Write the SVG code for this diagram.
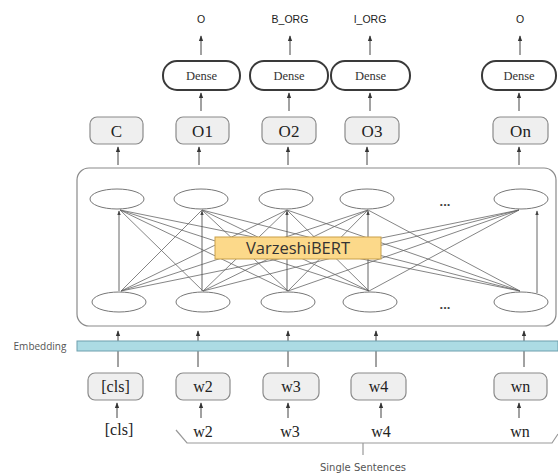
<svg xmlns="http://www.w3.org/2000/svg" width="558" height="474" viewBox="0 0 558 474">
  <defs>
    <marker id="arr" viewBox="0 0 8 8" refX="7" refY="4" markerWidth="6" markerHeight="6" orient="auto">
      <path d="M0,1 L8,4 L0,7 Z" fill="#333"/>
    </marker>
    <marker id="arrs" viewBox="0 0 8 8" refX="7" refY="4" markerWidth="5" markerHeight="5" orient="auto">
      <path d="M0,1 L8,4 L0,7 Z" fill="#444"/>
    </marker>
  </defs>
  <style>
    .tag { font-family: "Liberation Sans", Arial, sans-serif; font-size: 10.5px; fill: #222; text-anchor: middle; }
    .dense rect { fill: #fff; stroke: #3a3a3a; stroke-width: 2; }
    .dense text { font-family: "Liberation Serif", "Times New Roman", serif; font-size: 12.5px; fill: #333; text-anchor: middle; }
    .box rect { fill: #efefef; stroke: #8a8a8a; stroke-width: 1.2; }
    .box text { font-family: "Liberation Serif", "Times New Roman", serif; font-size: 17px; fill: #222; text-anchor: middle; }
    .tok text { font-family: "Liberation Serif", "Times New Roman", serif; font-size: 16px; fill: #222; text-anchor: middle; }
    .unit { fill: #fff; stroke: #777; stroke-width: 1; }
    .up { stroke: #444; stroke-width: 1; fill: none; marker-end: url(#arr); }
    .mesh { stroke: #666; stroke-width: 0.8; fill: none; }
    .dots { font-family: "Liberation Sans", Arial, sans-serif; font-size: 13px; font-weight: bold; fill: #444; text-anchor: middle; }
    .small { font-family: "DejaVu Sans", "Liberation Sans", sans-serif; font-size: 10px; fill: #555; text-anchor: middle; }
  </style>

  <!-- output tags -->
  <g id="tags">
    <text class="tag" x="201" y="23">O</text>
    <text class="tag" x="290" y="23">B_ORG</text>
    <text class="tag" x="370" y="23">I_ORG</text>
    <text class="tag" x="520" y="23">O</text>
  </g>

  <!-- dense heads -->
  <g id="dense1" class="dense"><rect x="163" y="61" width="77" height="29" rx="14"/><text x="201.5" y="80">Dense</text></g>
  <g id="dense2" class="dense"><rect x="250" y="61" width="78" height="29" rx="14"/><text x="289" y="80">Dense</text></g>
  <g id="dense3" class="dense"><rect x="331" y="61" width="79" height="29" rx="14"/><text x="370.5" y="80">Dense</text></g>
  <g id="dense4" class="dense"><rect x="482" y="61" width="74" height="29" rx="14"/><text x="519" y="80">Dense</text></g>

  <!-- encoder outputs -->
  <g id="outC" class="box"><rect x="90" y="117" width="53" height="27" rx="7"/><text x="116.5" y="137">C</text></g>
  <g id="outO1" class="box"><rect x="176" y="117" width="53" height="27" rx="7"/><text x="202.5" y="137">O1</text></g>
  <g id="outO2" class="box"><rect x="262" y="117" width="54" height="27" rx="7"/><text x="289" y="137">O2</text></g>
  <g id="outO3" class="box"><rect x="345" y="117" width="54" height="27" rx="7"/><text x="372" y="137">O3</text></g>
  <g id="outOn" class="box"><rect x="493" y="117" width="55" height="27" rx="7"/><text x="520.5" y="137">On</text></g>

  <!-- encoder frame -->
  <g id="encoder">
    <rect x="77" y="168" width="479" height="158" rx="12" fill="#fff" stroke="#8a8a8a" stroke-width="1.2"/>
    <g id="units-top">
      <ellipse class="unit" cx="117" cy="199" rx="27" ry="10"/>
      <ellipse class="unit" cx="201" cy="199" rx="27" ry="10"/>
      <ellipse class="unit" cx="286" cy="199" rx="27" ry="10"/>
      <ellipse class="unit" cx="367" cy="199" rx="27" ry="10"/>
      <ellipse class="unit" cx="521" cy="199" rx="27" ry="10"/>
      <text class="dots" x="445" y="206">...</text>
    </g>
    <g id="units-bottom">
      <ellipse class="unit" cx="119" cy="302" rx="27" ry="10"/>
      <ellipse class="unit" cx="203" cy="302" rx="27" ry="10"/>
      <ellipse class="unit" cx="288" cy="302" rx="27" ry="10"/>
      <ellipse class="unit" cx="370" cy="302" rx="27" ry="10"/>
      <ellipse class="unit" cx="521" cy="302" rx="27" ry="10"/>
      <text class="dots" x="445" y="309">...</text>
    </g>
  </g>

  <!-- connectors -->
  <g id="connectors">
    <!-- attention mesh: every lower unit to every upper unit -->
    <g class="mesh">
      <line x1="121" y1="291" x2="202" y2="210"/>
      <line x1="121" y1="291" x2="287" y2="210"/>
      <line x1="121" y1="291" x2="368" y2="210"/>
      <line x1="121" y1="291" x2="519" y2="210"/>
      <line x1="203" y1="291" x2="120" y2="210"/>
      <line x1="203" y1="291" x2="287" y2="210"/>
      <line x1="203" y1="291" x2="368" y2="210"/>
      <line x1="203" y1="291" x2="519" y2="210"/>
      <line x1="288" y1="291" x2="120" y2="210"/>
      <line x1="288" y1="291" x2="202" y2="210"/>
      <line x1="288" y1="291" x2="368" y2="210"/>
      <line x1="288" y1="291" x2="519" y2="210"/>
      <line x1="369" y1="291" x2="120" y2="210"/>
      <line x1="369" y1="291" x2="202" y2="210"/>
      <line x1="369" y1="291" x2="287" y2="210"/>
      <line x1="369" y1="291" x2="519" y2="210"/>
      <line x1="520" y1="291" x2="120" y2="210"/>
      <line x1="520" y1="291" x2="202" y2="210"/>
      <line x1="520" y1="291" x2="287" y2="210"/>
      <line x1="520" y1="291" x2="368" y2="210"/>
    </g>
    <g stroke="#555" stroke-width="0.9" fill="none" marker-end="url(#arrs)">
      <line x1="119" y1="291" x2="119" y2="211"/>
      <line x1="202" y1="291" x2="202" y2="211"/>
      <line x1="287" y1="291" x2="287" y2="211"/>
      <line x1="368" y1="291" x2="368" y2="211"/>
      <line x1="537" y1="293" x2="537" y2="211"/>
    </g>
    <!-- output arrows -->
    <line class="up" x1="201" y1="55" x2="201" y2="36"/>
    <line class="up" x1="290" y1="55" x2="290" y2="36"/>
    <line class="up" x1="370" y1="55" x2="370" y2="36"/>
    <line class="up" x1="520" y1="55" x2="520" y2="36"/>
    <line class="up" x1="201" y1="111" x2="201" y2="93"/>
    <line class="up" x1="289" y1="111" x2="289" y2="93"/>
    <line class="up" x1="370" y1="111" x2="370" y2="93"/>
    <line class="up" x1="519" y1="111" x2="519" y2="93"/>
    <line class="up" x1="118" y1="165" x2="118" y2="147"/>
    <line class="up" x1="199" y1="165" x2="199" y2="147"/>
    <line class="up" x1="288" y1="165" x2="288" y2="147"/>
    <line class="up" x1="367" y1="165" x2="367" y2="147"/>
    <line class="up" x1="519" y1="165" x2="519" y2="147"/>
    <!-- token to encoder -->
    <line class="up" x1="118" y1="367" x2="118" y2="331"/>
    <line class="up" x1="198" y1="367" x2="198" y2="331"/>
    <line class="up" x1="288" y1="367" x2="288" y2="331"/>
    <line class="up" x1="376" y1="367" x2="376" y2="331"/>
    <line class="up" x1="524" y1="367" x2="524" y2="331"/>
    <!-- input words to token boxes -->
    <line class="up" x1="117" y1="418" x2="117" y2="403"/>
    <line class="up" x1="201" y1="418" x2="201" y2="403"/>
    <line class="up" x1="288" y1="418" x2="288" y2="403"/>
    <line class="up" x1="381" y1="418" x2="381" y2="403"/>
    <line class="up" x1="519" y1="418" x2="519" y2="403"/>
  </g>

  <!-- model label -->
  <g id="model">
    <rect x="215" y="237" width="166" height="22" fill="#fcd98a" stroke="#c9a048" stroke-width="1"/>
    <text x="298" y="254" font-family="'Open Sans', 'DejaVu Sans', sans-serif" font-size="16.5" fill="#333" text-anchor="middle">VarzeshiBERT</text>
  </g>

  <!-- embedding layer -->
  <g id="embedding">
    <text x="40" y="350" font-family="'Open Sans', 'DejaVu Sans', sans-serif" font-size="10" fill="#555" text-anchor="middle">Embedding</text>
    <rect x="77" y="341" width="481" height="10" fill="#acdbe4" stroke="#6f9fae" stroke-width="1"/>
  </g>

  <!-- token boxes -->
  <g id="tokCls" class="box tok"><rect x="88" y="373" width="55" height="27" rx="7"/><text x="115.5" y="392">[cls]</text></g>
  <g id="tokW2" class="box tok"><rect x="176" y="373" width="54" height="27" rx="7"/><text x="203" y="392">w2</text></g>
  <g id="tokW3" class="box tok"><rect x="263" y="373" width="56" height="27" rx="7"/><text x="291" y="392">w3</text></g>
  <g id="tokW4" class="box tok"><rect x="351" y="373" width="55" height="27" rx="7"/><text x="378.5" y="392">w4</text></g>
  <g id="tokWn" class="box tok"><rect x="494" y="373" width="53" height="27" rx="7"/><text x="520.5" y="392">wn</text></g>

  <!-- input words -->
  <g id="inputs" class="tok">
    <text x="119" y="435">[cls]</text>
    <text x="203" y="437">w2</text>
    <text x="290" y="437">w3</text>
    <text x="381" y="437">w4</text>
    <text x="520" y="437">wn</text>
  </g>

  <!-- sentence brace -->
  <g id="sentence">
    <path d="M176,430 L187,443 L552,443 L558,434" fill="none" stroke="#999" stroke-width="1.2"/>
    <line x1="363" y1="443" x2="363" y2="455" stroke="#999" stroke-width="1.2"/>
    <text class="small" x="363" y="471">Single Sentences</text>
  </g>
</svg>
